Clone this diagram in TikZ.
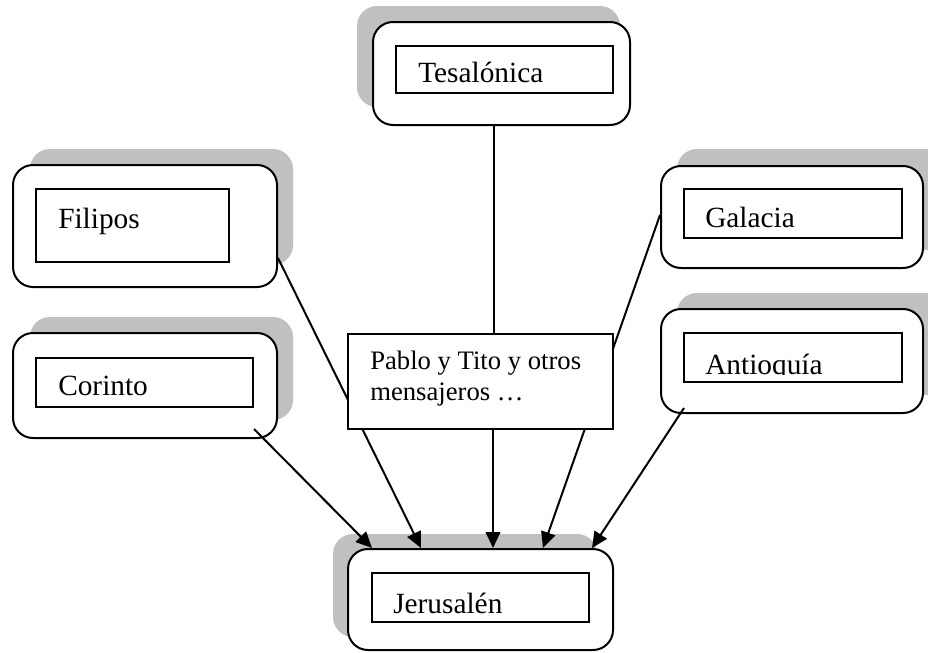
\documentclass[tikz,border=0pt]{standalone}
\usepackage{fontspec}
\setmainfont{Liberation Serif}
\usetikzlibrary{fit,calc,arrows.meta}
\definecolor{shadowgray}{HTML}{C0C0C0}
\begin{document}
\begin{tikzpicture}[x=0.75pt,y=-0.75pt,
  shadowfill/.style={fill=shadowgray, rounded corners=15pt},
  outerbox/.style={draw, line width=1.5pt, rounded corners=15pt, fill=white, inner sep=0pt},
  innerbox/.style={draw, line width=1.5pt, fill=white, inner sep=0pt},
  lbl/.style={anchor=base west, inner sep=0pt, font=\fontsize{22}{26}\selectfont},
  lblsmall/.style={anchor=base west, inner sep=0pt, font=\fontsize{20}{23}\selectfont},
  conn/.style={line width=1.5pt},
  arr/.style={conn, -{Triangle[length=12pt,width=11pt]}}]
\clip (0,0) rectangle (928,653);
\fill[white] (0,0) rectangle (928,653);

% shadows
\fill[shadowfill] (357,6) rectangle (620,107);
\fill[shadowfill] (30,149) rectangle (293,265);
\fill[shadowfill] (30,317) rectangle (293,420);
\fill[shadowfill] (677,149) rectangle (950,250);
\fill[shadowfill] (677,293) rectangle (950,395);
\fill[shadowfill] (333,534) rectangle (597,637);

% outer rounded boxes
\node[outerbox, fit={(373,22)(630,125)}] (tesO) {};
\node[outerbox, fit={(13,165)(277,287)}] (filO) {};
\node[outerbox, fit={(13,333)(277,438)}] (corO) {};
\node[outerbox, fit={(661,166)(923,268)}] (galO) {};
\node[outerbox, fit={(661,309)(923,413)}] (antO) {};
\node[outerbox, fit={(348,549)(613,650)}] (jerO) {};

% inner boxes
\node[innerbox, fit={(396,46)(613,93)}] (tes) {};
\node[innerbox, fit={(36,189)(229,262)}] (fil) {};
\node[innerbox, fit={(36,358)(253,407)}] (cor) {};
\node[innerbox, fit={(684,189)(902,238)}] (gal) {};
\node[innerbox, fit={(684,333)(902,382)}] (ant) {};
\node[innerbox, fit={(372,573)(589,622)}] (jer) {};

% labels
\node[lbl] (tesT) at (418,82) {Tesalónica};
\node[lbl] (filT) at (58,228) {Filipos};
\node[lbl] (corT) at (58,395) {Corinto};
\node[lbl] (galT) at (705,227) {Galacia};
\begin{scope}
  \clip (684,333) rectangle (902,374);
  \node[lbl] (antT) at (705,374) {Antioquía};
\end{scope}
\begin{scope}
  \clip (372,573) rectangle (589,613.5);
  \node[lbl] (jerT) at (393,613.5) {Jerusalén};
\end{scope}

% connectors passing behind the central box
\draw[arr] ($(filO.east)+(0,32)$) -- ($(jerO.north)+(-59.5,0)$);
\draw[arr] ($(galO.west)+(0,-2)$) -- ($(jerO.north)+(62.5,0)$);
\draw[arr] ($(corO.south east)+(-24,-10)$) -- ($(jerO.north)+(-108.5,0)$);
\draw[arr] ($(antO.south west)+(24,-6)$) -- ($(jerO.north)+(111.5,0)$);

% central box
\node[innerbox, fit={(348,334)(613,429)}] (pab) {};
\node[lblsmall] (pabT1) at (370,369) {Pablo y Tito y otros};
\node[lblsmall] (pabT2) at (370,400) {mensajeros …};

\draw[conn] ($(tesO.south)+(-7.5,0)$) coordinate (t1) -- (t1 |- pab.north);
\draw[arr] ($(pab.south)+(12.5,0)$) -- ($(jerO.north)+(12.5,0)$);
\end{tikzpicture}
\end{document}
